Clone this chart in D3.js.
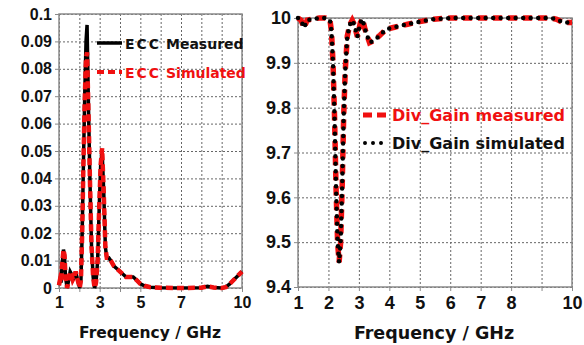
<!DOCTYPE html>
<html>
<head>
<meta charset="utf-8">
<script src="https://cdn.jsdelivr.net/npm/d3@7"></script>
<style>
  body { margin: 0; background: #fff; }
  svg { font-family: "DejaVu Sans", Verdana, sans-serif; font-weight: bold; }
</style>
</head>
<body>
<svg id="chart" width="584" height="345"></svg>
<script>

//// DATA

// ECC panel (left)
var eccFreq = [1.00, 1.05, 1.10, 1.15, 1.22, 1.27, 1.32, 1.40, 1.48, 1.55, 1.62, 1.68, 1.75, 1.82, 1.88, 1.95,
               2.02, 2.08, 2.14, 2.20, 2.27, 2.33, 2.38, 2.45, 2.52, 2.60, 2.68, 2.75, 2.82, 2.90, 2.98, 3.05,
               3.12, 3.20, 3.28, 3.35, 3.45, 3.55, 3.70, 3.85, 4.00, 4.15, 4.30, 4.50, 4.65, 4.80, 5.00, 5.20,
               5.50, 6.00, 7.00, 8.00, 8.30, 8.60, 9.00, 9.20, 9.40, 9.60, 9.80, 10.0];
var eccMeasured = [0.001, 0.003, 0.002, 0.008, 0.014, 0.012, 0.004, 0.000, 0.003, 0.006, 0.005, 0.003, 0.004, 0.006, 0.004, 0.002,
                   0.000, 0.003, 0.020, 0.045, 0.072, 0.090, 0.096, 0.066, 0.040, 0.015, 0.004, 0.000, 0.002, 0.010, 0.030, 0.045,
                   0.050, 0.035, 0.015, 0.011, 0.011, 0.010, 0.008, 0.007, 0.006, 0.005, 0.004, 0.004, 0.004, 0.003, 0.0015, 0.0008,
                   0.0003, 0.0001, 0.000, 0.0001, 0.0006, 0.0002, 0.000, 0.0003, 0.0015, 0.003, 0.0045, 0.006];
var eccSimulated = [0.001, 0.003, 0.002, 0.008, 0.014, 0.012, 0.004, 0.000, 0.003, 0.006, 0.005, 0.003, 0.004, 0.006, 0.004, 0.002,
                    0.000, 0.003, 0.020, 0.045, 0.070, 0.084, 0.086, 0.064, 0.040, 0.015, 0.004, 0.000, 0.002, 0.010, 0.030, 0.045,
                    0.051, 0.035, 0.015, 0.011, 0.011, 0.010, 0.008, 0.007, 0.006, 0.005, 0.004, 0.004, 0.004, 0.003, 0.0015, 0.0008,
                    0.0003, 0.0001, 0.000, 0.0001, 0.0006, 0.0002, 0.000, 0.0003, 0.0015, 0.003, 0.0045, 0.006];
var eccYTicks = [0, 0.01, 0.02, 0.03, 0.04, 0.05, 0.06, 0.07, 0.08, 0.09, 0.1];
var eccYLabels = ["0", "0.01", "0.02", "0.03", "0.04", "0.05", "0.06", "0.07", "0.08", "0.09", "0.1"];
var eccXTicks = [1, 2, 3, 4, 5, 6, 7, 8, 9, 10];
var eccXLabels = [1, 3, 5, 7, 10];

// Diversity gain panel (right)
var dgFreq = [1.00, 1.10, 1.20, 1.30, 1.50, 1.70, 1.90, 2.05, 2.10, 2.15, 2.20, 2.25, 2.30, 2.35, 2.40, 2.45,
              2.50, 2.55, 2.62, 2.70, 2.78, 2.85, 2.95, 3.05, 3.12, 3.20, 3.35, 3.50, 3.70, 3.90, 4.20, 4.60,
              5.00, 5.40, 6.00, 7.00, 8.00, 9.00, 9.30, 9.50, 9.70, 10.0];
var dgMeasured = [10.0, 9.995, 9.978, 9.995, 9.998, 10.0, 10.0, 9.995, 9.97, 9.90, 9.78, 9.62, 9.50, 9.455, 9.50, 9.62,
                  9.78, 9.88, 9.96, 9.985, 9.995, 9.985, 9.958, 9.99, 9.998, 9.975, 9.945, 9.95, 9.962, 9.975, 9.98, 9.986,
                  9.992, 9.997, 10.0, 10.0, 10.0, 10.0, 10.0, 9.997, 9.99, 9.99];
var dgSimulated = [10.0, 9.995, 9.978, 9.995, 9.998, 10.0, 10.0, 9.995, 9.97, 9.90, 9.78, 9.62, 9.50, 9.455, 9.50, 9.62,
                   9.78, 9.88, 9.96, 9.985, 9.995, 9.985, 9.958, 9.99, 9.998, 9.975, 9.945, 9.95, 9.962, 9.975, 9.98, 9.986,
                   9.992, 9.997, 10.0, 10.0, 10.0, 10.0, 10.0, 9.997, 9.99, 9.99];
var dgYTicks = [9.4, 9.5, 9.6, 9.7, 9.8, 9.9, 10];
var dgXTicks = [1, 2, 3, 4, 5, 6, 7, 8, 9, 10];
var dgXLabels = [1, 2, 3, 4, 5, 6, 7, 8, 10];

var RED = "#f01010";
var GRID = "#666";
var FRAME = "#8a8a8a";


//// MAIN

var svg = d3.select("#chart");

drawEccPanel();
drawGainPanel();


//// FUNCTIONS

// Shared: grid, frame, tick labels for one panel
function drawFrame(g, x, y, xTicks, xLabels, yTicks, yFormat, fontSize) {

    var w = x.range()[1] - x.range()[0];
    var h = y.range()[0] - y.range()[1];

    // vertical grid lines
    g.append("g")
        .attr("transform", "translate(0," + y.range()[1] + ")")
        .call(d3.axisBottom(x).tickValues(xTicks).tickSize(h).tickFormat(""))
        .call(function(a) {
            a.select(".domain").remove();
            a.selectAll("line").attr("stroke", GRID).attr("stroke-dasharray", "2,2");
        });

    // horizontal grid lines
    g.append("g")
        .attr("transform", "translate(" + x.range()[0] + ",0)")
        .call(d3.axisRight(y).tickValues(yTicks).tickSize(w).tickFormat(""))
        .call(function(a) {
            a.select(".domain").remove();
            a.selectAll("line").attr("stroke", GRID).attr("stroke-dasharray", "2,2");
        });

    // plot frame
    g.append("rect")
        .attr("x", x.range()[0]).attr("y", y.range()[1])
        .attr("width", w).attr("height", h)
        .attr("fill", "none").attr("stroke", FRAME).attr("stroke-width", 1.5);

    // y axis labels
    g.append("g")
        .attr("transform", "translate(" + x.range()[0] + ",0)")
        .call(d3.axisLeft(y).tickValues(yTicks).tickSize(4).tickPadding(3).tickFormat(yFormat))
        .call(function(a) {
            a.select(".domain").remove();
            a.selectAll("line").attr("stroke", FRAME);
            a.selectAll("text").attr("font-family", null).attr("font-size", fontSize)
                .attr("fill", "#111").attr("font-weight", "bold");
        });

    // x axis labels
    g.append("g")
        .attr("transform", "translate(0," + y.range()[0] + ")")
        .call(d3.axisBottom(x).tickValues(xTicks).tickSize(4).tickPadding(5)
            .tickFormat(function(d) { return xLabels.indexOf(d) >= 0 ? d : ""; }))
        .call(function(a) {
            a.select(".domain").remove();
            a.selectAll("line").attr("stroke", FRAME);
            a.selectAll("text").attr("font-family", null).attr("font-size", fontSize)
                .attr("fill", "#111").attr("font-weight", "bold");
        });
}

///////////////////////////////////
// Left panel: ECC
function drawEccPanel() {
///////////////////////////////////

    var x = d3.scaleLinear().domain([1, 10]).range([59, 242]);
    var y = d3.scaleLinear().domain([0, 0.1]).range([288, 14]);
    var g = svg.append("g");

    drawFrame(g, x, y, eccXTicks, eccXLabels, eccYTicks,
        function(d, i) { return eccYLabels[i]; }, 16);

    var line = d3.line().x(function(d) { return x(d[0]); }).y(function(d) { return y(d[1]); });
    var meas = eccFreq.map(function(f, i) { return [f, eccMeasured[i]]; });
    var sim = eccFreq.map(function(f, i) { return [f, eccSimulated[i]]; });

    // measured solid black under the red dashed simulated
    g.append("path").datum(meas).attr("d", line)
        .attr("fill", "none").attr("stroke", "#000").attr("stroke-width", 3.5);
    g.append("path").datum(sim).attr("d", line)
        .attr("fill", "none").attr("stroke", RED).attr("stroke-width", 4.5)
        .attr("stroke-dasharray", "7,4");

    // legend
    g.append("line").attr("x1", 97).attr("x2", 122).attr("y1", 43).attr("y2", 43)
        .attr("stroke", "#000").attr("stroke-width", 3.5);
    g.append("line").attr("x1", 97).attr("x2", 122).attr("y1", 72).attr("y2", 72)
        .attr("stroke", RED).attr("stroke-width", 4).attr("stroke-dasharray", "7,4");

    var t1 = g.append("text").attr("x", 125).attr("y", 49).attr("font-size", 14).attr("fill", "#111");
    t1.append("tspan").attr("letter-spacing", 2).text("ECC");
    t1.append("tspan").text(" Measured");
    var t2 = g.append("text").attr("x", 125).attr("y", 78).attr("font-size", 14).attr("fill", RED);
    t2.append("tspan").attr("letter-spacing", 2).text("ECC");
    t2.append("tspan").text(" Simulated");

    g.append("text").attr("x", 150).attr("y", 338).attr("text-anchor", "middle")
        .attr("font-size", 15.5).attr("fill", "#111").text("Frequency / GHz");
}

///////////////////////////////////
// Right panel: diversity gain
function drawGainPanel() {
///////////////////////////////////

    var x = d3.scaleLinear().domain([1, 10]).range([298, 572]);
    var y = d3.scaleLinear().domain([9.4, 10]).range([287, 18]);
    var g = svg.append("g");

    drawFrame(g, x, y, dgXTicks, dgXLabels, dgYTicks,
        function(d) { return d === 10 ? "10" : d3.format(".1f")(d); }, 18);

    var line = d3.line().x(function(d) { return x(d[0]); }).y(function(d) { return y(d[1]); });
    var meas = dgFreq.map(function(f, i) { return [f, dgMeasured[i]]; });
    var sim = dgFreq.map(function(f, i) { return [f, dgSimulated[i]]; });

    g.append("path").datum(meas).attr("d", line)
        .attr("fill", "none").attr("stroke", RED).attr("stroke-width", 5.5)
        .attr("stroke-dasharray", "9,6");
    g.append("path").datum(sim).attr("d", line)
        .attr("fill", "none").attr("stroke", "#000").attr("stroke-width", 4.5)
        .attr("stroke-linecap", "round").attr("stroke-dasharray", "0,7.5");

    // legend
    g.append("line").attr("x1", 363).attr("x2", 388).attr("y1", 115).attr("y2", 115)
        .attr("stroke", RED).attr("stroke-width", 5).attr("stroke-dasharray", "9,5");
    g.append("line").attr("x1", 365).attr("x2", 384).attr("y1", 143).attr("y2", 143)
        .attr("stroke", "#000").attr("stroke-width", 4)
        .attr("stroke-linecap", "round").attr("stroke-dasharray", "0,8");

    g.append("text").attr("x", 392).attr("y", 121).attr("font-size", 16)
        .attr("fill", RED).text("Div_Gain measured");
    g.append("text").attr("x", 392).attr("y", 149).attr("font-size", 16)
        .attr("fill", "#111").text("Div_Gain simulated");

    g.append("text").attr("x", 434).attr("y", 339).attr("text-anchor", "middle")
        .attr("font-size", 17.5).attr("fill", "#111").text("Frequency / GHz");
}

</script>
</body>
</html>
